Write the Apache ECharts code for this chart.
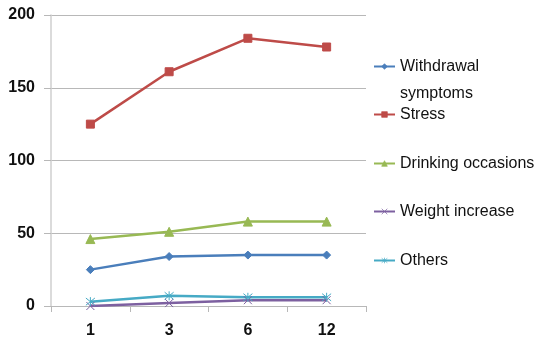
<!DOCTYPE html>
<html>
<head>
<meta charset="utf-8">
<script src="https://cdn.jsdelivr.net/npm/echarts@6/dist/echarts.min.js"></script>
<style>
  html, body { margin: 0; padding: 0; background: #fff; }
  #chart { width: 538px; height: 339px; }
</style>
</head>
<body>
<div id="chart"></div>
<script>
// Months of follow-up
const months = ['1', '3', '6', '12'];

// Reported counts per reason
const withdrawal = [25, 34, 35, 35];
const stress = [125, 161, 184, 178];
const drinking = [46, 51, 58, 58];
const weightGain = [0, 2, 4, 4];
const others = [3, 7, 6, 6];

const seriesNames = ['Withdrawal symptoms', 'Stress', 'Drinking occasions', 'Weight increase', 'Others'];
const colors = ['#4a7ebb', '#be4b48', '#98b954', '#7d60a0', '#46aac5'];

const crossPath = 'path://M0,0 L10,10 M10,0 L0,10';
const starPath = 'path://M0,1 L10,9 M10,1 L0,9 M5,0 L5,10';

const font = 'Liberation Sans, Arial, sans-serif';

function lineSeries(name, data, color, symbol, size) {
  return {
    name: name,
    type: 'line',
    data: data,
    symbol: symbol,
    symbolSize: size,
    showAllSymbol: true,
    lineStyle: { color: color, width: 2.5 },
    itemStyle: { color: color, borderColor: color, borderWidth: 1 },
    emphasis: { disabled: true },
    animation: false
  };
}

// One legend block per series so each row sits at its own height
const legendTops = [26, 101, 150, 198, 247];
const legends = seriesNames.map((n, i) => ({
  data: [n],
  orient: 'vertical',
  left: 373,
  top: legendTops[i],
  padding: 0,
  itemWidth: 21,
  itemHeight: 7,
  itemGap: 0,
  selectedMode: false,
  itemStyle: { borderWidth: 0.7 },
  // the long name wraps; a leading blank line keeps the icon beside its first line
  formatter: (name) => name === 'Withdrawal symptoms' ? '\u00a0\nWithdrawal\nsymptoms' : name,
  textStyle: {
    fontFamily: font,
    fontSize: 16,
    color: '#111',
    lineHeight: 27
  }
}));

const chart = echarts.init(document.getElementById('chart'), null, { renderer: 'canvas' });
chart.setOption({
  backgroundColor: '#fff',
  animation: false,
  color: colors,
  grid: { left: 51, right: 172, top: 15, bottom: 33, containLabel: false },
  legend: legends,
  xAxis: {
    type: 'category',
    data: months,
    boundaryGap: true,
    axisLine: { show: true, lineStyle: { color: '#b8b8b8', width: 1 } },
    axisTick: { show: true, alignWithLabel: false, length: 6, lineStyle: { color: '#b8b8b8' } },
    axisLabel: { margin: 17, fontFamily: font, fontSize: 16, fontWeight: 'bold', color: '#111' },
    splitLine: { show: false }
  },
  yAxis: {
    type: 'value',
    min: 0,
    max: 200,
    interval: 50,
    axisLine: { show: true, lineStyle: { color: '#cfcfcf', width: 1.5 } },
    axisTick: { show: true, length: 7, lineStyle: { color: '#b8b8b8' } },
    axisLabel: { margin: 16, fontFamily: font, fontSize: 16, fontWeight: 'bold', color: '#111' },
    splitLine: { show: true, lineStyle: { color: '#b8b8b8', width: 1 } }
  },
  series: [
    lineSeries(seriesNames[0], withdrawal, colors[0], 'diamond', 8),
    lineSeries(seriesNames[1], stress, colors[1], 'rect', 8),
    lineSeries(seriesNames[2], drinking, colors[2], 'triangle', 9),
    lineSeries(seriesNames[3], weightGain, colors[3], crossPath, 8),
    lineSeries(seriesNames[4], others, colors[4], starPath, 9)
  ]
});
</script>
</body>
</html>
